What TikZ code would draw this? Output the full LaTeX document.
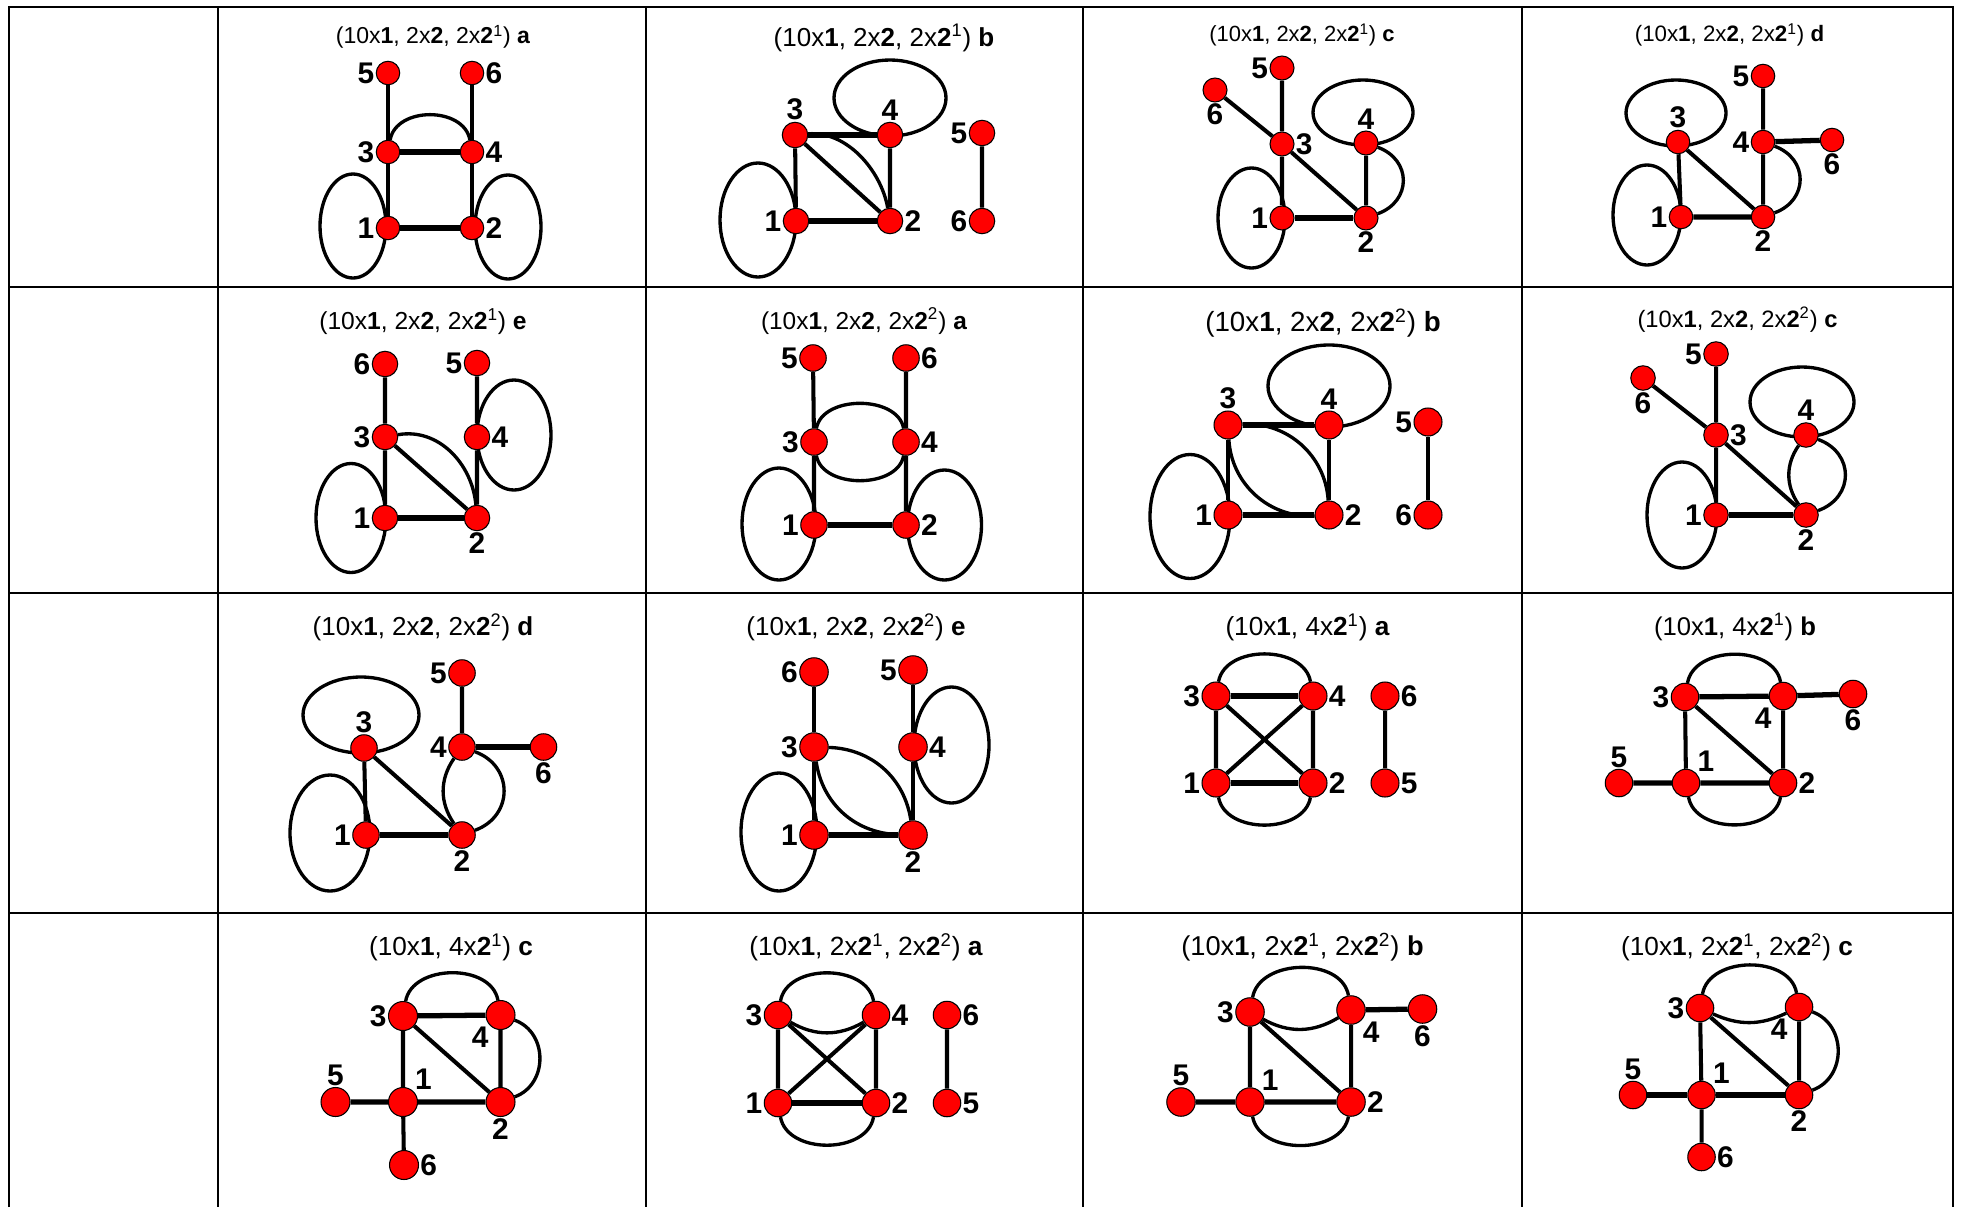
\documentclass[tikz,border=0pt]{standalone}
\usepackage{fontspec}
\setmainfont{Liberation Sans}
\usetikzlibrary{backgrounds}

\tikzset{
  vert/.style={circle, draw=black, fill=red, line width=0.6pt, inner sep=0pt, minimum size=#1},
  vert/.default=0.52cm,
  link/.style={line width=2.3pt},
  hlink/.style={line width=3pt},
  lp/.style={line width=1.9pt},
  rule/.style={line width=1.2pt},
  ttl/.style={inner sep=0pt, font=\fontsize{#1}{#1}\selectfont},
  every label/.style={font=\fontsize{17}{17}\selectfont\bfseries, inner sep=0.6pt},
}

\begin{document}
\begin{tikzpicture}[x=0.02cm, y=0.02cm]
\useasboundingbox (0,0) rectangle (1963,-1207);

% Table
\draw[rule] (9,-1207) -- (9,-7) -- (1953,-7) -- (1953,-1207);
\foreach \cx in {218,646,1083,1522} \draw[rule] (\cx,-7) -- (\cx,-1207);
\foreach \ry in {287,593,913} \draw[rule] (9,-\ry) -- (1953,-\ry);

% (10x1, 2x2, 2x2^1) a
\node[ttl=13.1] (t1) at (433,-37) {(10x\textbf{1}, 2x\textbf{2}, 2x\textbf{2}\textsuperscript{1}) \textbf{a}};
\begin{scope}[vert/.default=0.47cm]
\node[vert, label=left:5] (g1-5) at (388,-73) {};
\node[vert, label=right:6] (g1-6) at (472,-73) {};
\node[vert, label=left:3] (g1-3) at (388,-152) {};
\node[vert, label=right:4] (g1-4) at (472,-152) {};
\node[vert, label=left:1] (g1-1) at (388,-228) {};
\node[vert, label=right:2] (g1-2) at (472,-228) {};
\end{scope}
\draw[link] (g1-5) -- (g1-3) (g1-6) -- (g1-4) (g1-3) -- (g1-1) (g1-4) -- (g1-2);
\draw[hlink] (g1-3) -- (g1-4) (g1-1) -- (g1-2);
\draw[lp] (g1-3) to[out=80, in=100, looseness=1.1] (g1-4);
\begin{scope}[on background layer]
\draw[lp] (g1-1) ++(-35,2) ellipse [x radius=33, y radius=52];
\draw[lp] (g1-2) ++(36,1) ellipse [x radius=33, y radius=52];
\end{scope}

% (10x1, 2x2, 2x2^1) b
\node[ttl=14.8] (t2) at (884,-38) {(10x\textbf{1}, 2x\textbf{2}, 2x\textbf{2}\textsuperscript{1}) \textbf{b}};
\begin{scope}[vert/.default=0.51cm]
\node[vert, label=above:3] (g2-3) at (795,-135) {};
\node[vert, label=above:4] (g2-4) at (890,-135) {};
\node[vert, label=left:1] (g2-1) at (796,-221) {};
\node[vert, label=right:2] (g2-2) at (890,-221) {};
\node[vert, label=left:5] (g2-5) at (982,-133) {};
\node[vert, label=left:6] (g2-6) at (982,-221) {};
\end{scope}
\draw[link] (g2-3) -- (g2-1) (g2-4) -- (g2-2) (g2-3) -- (g2-2) (g2-5) -- (g2-6);
\draw[hlink] (g2-3) -- (g2-4) (g2-1) -- (g2-2);
\draw[lp] (g2-3) to[out=5, in=100, looseness=0.9] (g2-2);
\begin{scope}[on background layer]
\draw[lp] (g2-4) ++(0,37) ellipse [x radius=56, y radius=38];
\draw[lp] (g2-1) ++(-38,1) ellipse [x radius=38, y radius=57];
\end{scope}

% (10x1, 2x2, 2x2^1) c
\node[ttl=12.5] (t3) at (1302,-35) {(10x\textbf{1}, 2x\textbf{2}, 2x\textbf{2}\textsuperscript{1}) \textbf{c}};
\begin{scope}[vert/.default=0.48cm]
\node[vert, label=left:5] (g3-5) at (1282,-68) {};
\node[vert, label=below:6] (g3-6) at (1215,-90) {};
\node[vert, label=right:3] (g3-3) at (1282,-144) {};
\node[vert, label=above:4] (g3-4) at (1366,-143) {};
\node[vert, label=left:1] (g3-1) at (1282,-218) {};
\node[vert, label=below:2] (g3-2) at (1366,-218) {};
\end{scope}
\draw[link] (g3-5) -- (g3-3) (g3-6) -- (g3-3) (g3-3) -- (g3-1) (g3-3) -- (g3-2) (g3-4) -- (g3-2);
\draw[hlink] (g3-1) -- (g3-2);
\draw[lp] (g3-4) to[out=-20, in=20, looseness=1.4] (g3-2);
\begin{scope}[on background layer]
\draw[lp] (g3-4) ++(-3,30.5) ellipse [x radius=50, y radius=32.5];
\draw[lp] (g3-1) ++(-30.5,0) ellipse [x radius=33.5, y radius=50];
\end{scope}

% (10x1, 2x2, 2x2^1) d
\node[ttl=12.7] (t4) at (1729.5,-35) {(10x\textbf{1}, 2x\textbf{2}, 2x\textbf{2}\textsuperscript{1}) \textbf{d}};
\begin{scope}[vert/.default=0.47cm]
\node[vert, label=left:5] (g4-5) at (1763,-76) {};
\node[vert, label=above:3] (g4-3) at (1678,-142) {};
\node[vert, label=left:4] (g4-4) at (1763,-142) {};
\node[vert, label=below:6] (g4-6) at (1832,-140) {};
\node[vert, label=left:1] (g4-1) at (1681,-217) {};
\node[vert, label=below:2] (g4-2) at (1763,-217) {};
\end{scope}
\draw[link] (g4-5) -- (g4-4) (g4-4) -- (g4-2) (g4-3) -- (g4-1) (g4-3) -- (g4-2);
\draw[hlink] (g4-4) -- (g4-6) (g4-1) -- (g4-2);
\draw[lp] (g4-4) to[out=-20, in=20, looseness=1.4] (g4-2);
\begin{scope}[on background layer]
\draw[lp] (g4-3) ++(-2,29) ellipse [x radius=50, y radius=33];
\draw[lp] (g4-1) ++(-34,2) ellipse [x radius=34, y radius=50];
\end{scope}

% (10x1, 2x2, 2x2^1) e
\node[ttl=14] (t5) at (423,-322) {(10x\textbf{1}, 2x\textbf{2}, 2x\textbf{2}\textsuperscript{1}) \textbf{e}};
\begin{scope}[vert/.default=0.51cm]
\node[vert, label=left:6] (g5-6) at (385,-364) {};
\node[vert, label=left:5] (g5-5) at (477,-363) {};
\node[vert, label=left:3] (g5-3) at (385,-437) {};
\node[vert, label=right:4] (g5-4) at (477,-437) {};
\node[vert, label=left:1] (g5-1) at (385,-518) {};
\node[vert, label=below:2] (g5-2) at (477,-518) {};
\end{scope}
\draw[link] (g5-6) -- (g5-3) (g5-5) -- (g5-4) (g5-4) -- (g5-2) (g5-3) -- (g5-1) (g5-3) -- (g5-2);
\draw[hlink] (g5-1) -- (g5-2);
\draw[lp] (g5-3) to[out=10, in=95] (g5-2);
\begin{scope}[on background layer]
\draw[lp] (g5-4) ++(37,2) ellipse [x radius=37, y radius=55];
\draw[lp] (g5-1) ++(-34,0) ellipse [x radius=35, y radius=54.5];
\end{scope}

% (10x1, 2x2, 2x2^2) a
\node[ttl=13.9] (t6) at (864,-321) {(10x\textbf{1}, 2x\textbf{2}, 2x\textbf{2}\textsuperscript{2}) \textbf{a}};
\begin{scope}[vert/.default=0.53cm]
\node[vert, label=left:5] (g6-5) at (813,-358) {};
\node[vert, label=right:6] (g6-6) at (906,-358) {};
\node[vert, label=left:3] (g6-3) at (814,-442) {};
\node[vert, label=right:4] (g6-4) at (906,-442) {};
\node[vert, label=left:1] (g6-1) at (814,-525) {};
\node[vert, label=right:2] (g6-2) at (906,-525) {};
\end{scope}
\draw[link] (g6-5) -- (g6-3) (g6-6) -- (g6-4) (g6-3) -- (g6-1) (g6-4) -- (g6-2);
\draw[hlink] (g6-1) -- (g6-2);
\draw[lp] (g6-3) to[out=80, in=100, looseness=1] (g6-4);
\draw[lp] (g6-3) to[out=-80, in=-100, looseness=1] (g6-4);
\begin{scope}[on background layer]
\draw[lp] (g6-1) ++(-35,1) ellipse [x radius=37, y radius=56];
\draw[lp] (g6-2) ++(38.5,0) ellipse [x radius=37, y radius=55];
\end{scope}

% (10x1, 2x2, 2x2^2) b
\node[ttl=15.8] (t7) at (1323,-323) {(10x\textbf{1}, 2x\textbf{2}, 2x\textbf{2}\textsuperscript{2}) \textbf{b}};
\begin{scope}[vert/.default=0.56cm]
\node[vert, label=above:3] (g7-3) at (1228,-425) {};
\node[vert, label=above:4] (g7-4) at (1329,-425) {};
\node[vert, label=left:1] (g7-1) at (1228,-515) {};
\node[vert, label=right:2] (g7-2) at (1329,-515) {};
\node[vert, label=left:5] (g7-5) at (1428,-422) {};
\node[vert, label=left:6] (g7-6) at (1428,-515) {};
\end{scope}
\draw[link] (g7-3) -- (g7-1) (g7-4) -- (g7-2) (g7-5) -- (g7-6);
\draw[hlink] (g7-3) -- (g7-4) (g7-1) -- (g7-2);
\draw[lp] (g7-3) to[bend left=45] (g7-2);
\draw[lp] (g7-3) to[bend right=45] (g7-2);
\begin{scope}[on background layer]
\draw[lp] (g7-4) ++(0,39) ellipse [x radius=61, y radius=41];
\draw[lp] (g7-1) ++(-38,-1.5) ellipse [x radius=40, y radius=62];
\end{scope}

% (10x1, 2x2, 2x2^2) c
\node[ttl=13.5] (t8) at (1737.5,-320) {(10x\textbf{1}, 2x\textbf{2}, 2x\textbf{2}\textsuperscript{2}) \textbf{c}};
\begin{scope}[vert/.default=0.49cm]
\node[vert, label=left:5] (g8-5) at (1716,-354) {};
\node[vert, label=below:6] (g8-6) at (1643,-378) {};
\node[vert, label=right:3] (g8-3) at (1716,-435) {};
\node[vert, label=above:4] (g8-4) at (1806,-435) {};
\node[vert, label=left:1] (g8-1) at (1716,-515) {};
\node[vert, label=below:2] (g8-2) at (1806,-515) {};
\end{scope}
\draw[link] (g8-5) -- (g8-3) (g8-6) -- (g8-3) (g8-3) -- (g8-1) (g8-3) -- (g8-2);
\draw[hlink] (g8-1) -- (g8-2);
\draw[lp] (g8-4) to[bend right=35] (g8-2);
\draw[lp] (g8-4) to[out=-20, in=20, looseness=1.4] (g8-2);
\begin{scope}[on background layer]
\draw[lp] (g8-4) ++(-4,33) ellipse [x radius=52, y radius=35];
\draw[lp] (g8-1) ++(-34,0) ellipse [x radius=35, y radius=53];
\end{scope}

% (10x1, 2x2, 2x2^2) d
\node[ttl=14.8] (t9) at (423,-627) {(10x\textbf{1}, 2x\textbf{2}, 2x\textbf{2}\textsuperscript{2}) \textbf{d}};
\begin{scope}[vert/.default=0.53cm]
\node[vert, label=left:5] (g9-5) at (462,-673) {};
\node[vert, label=above:3] (g9-3) at (364,-748) {};
\node[vert, label=left:4] (g9-4) at (462,-747) {};
\node[vert, label=below:6] (g9-6) at (543.5,-747) {};
\node[vert, label=left:1] (g9-1) at (366,-835) {};
\node[vert, label=below:2] (g9-2) at (462,-835) {};
\end{scope}
\draw[link] (g9-5) -- (g9-4) (g9-3) -- (g9-1) (g9-3) -- (g9-2);
\draw[hlink] (g9-4) -- (g9-6) (g9-1) -- (g9-2);
\draw[lp] (g9-4) to[bend right=35] (g9-2);
\draw[lp] (g9-4) to[out=-20, in=20, looseness=1.35] (g9-2);
\begin{scope}[on background layer]
\draw[lp] (g9-3) ++(-3,33) ellipse [x radius=58, y radius=38];
\draw[lp] (g9-1) ++(-36,2) ellipse [x radius=40, y radius=58];
\end{scope}

% (10x1, 2x2, 2x2^2) e
\node[ttl=14.8] (t10) at (856,-627) {(10x\textbf{1}, 2x\textbf{2}, 2x\textbf{2}\textsuperscript{2}) \textbf{e}};
\begin{scope}[vert/.default=0.57cm]
\node[vert, label=left:6] (g10-6) at (814,-672) {};
\node[vert, label=left:5] (g10-5) at (913,-670) {};
\node[vert, label=left:3] (g10-3) at (814,-747) {};
\node[vert, label=right:4] (g10-4) at (913,-747) {};
\node[vert, label=left:1] (g10-1) at (814,-835) {};
\node[vert, label=below:2] (g10-2) at (913,-835) {};
\end{scope}
\draw[link] (g10-6) -- (g10-3) (g10-5) -- (g10-4) (g10-4) -- (g10-2) (g10-3) -- (g10-1);
\draw[hlink] (g10-1) -- (g10-2);
\draw[lp] (g10-3) to[bend left=40] (g10-2);
\draw[lp] (g10-3) to[bend right=40] (g10-2);
\begin{scope}[on background layer]
\draw[lp] (g10-4) ++(38.5,2) ellipse [x radius=37.5, y radius=58];
\draw[lp] (g10-1) ++(-35,3) ellipse [x radius=38, y radius=59];
\end{scope}

% (10x1, 4x2^1) a
\node[ttl=14.9] (t11) at (1307.5,-627) {(10x\textbf{1}, 4x\textbf{2}\textsuperscript{1}) \textbf{a}};
\begin{scope}[vert/.default=0.56cm]
\node[vert, label=left:3] (g11-3) at (1216,-696) {};
\node[vert, label=right:4] (g11-4) at (1313,-696) {};
\node[vert, label=right:6] (g11-6) at (1385,-696) {};
\node[vert, label=left:1] (g11-1) at (1216,-783) {};
\node[vert, label=right:2] (g11-2) at (1313,-783) {};
\node[vert, label=right:5] (g11-5) at (1385,-783) {};
\end{scope}
\draw[link] (g11-3) -- (g11-1) (g11-4) -- (g11-2) (g11-3) -- (g11-2) (g11-1) -- (g11-4) (g11-6) -- (g11-5);
\draw[hlink] (g11-3) -- (g11-4) (g11-1) -- (g11-2);
\draw[lp] (g11-3) to[out=80, in=100, looseness=1.05] (g11-4);
\draw[lp] (g11-1) to[out=-80, in=-100, looseness=1.05] (g11-2);

% (10x1, 4x2^1) b
\node[ttl=14.6] (t12) at (1735,-627) {(10x\textbf{1}, 4x\textbf{2}\textsuperscript{1}) \textbf{b}};
\begin{scope}[vert/.default=0.55cm]
\node[vert, label=left:3] (g12-3) at (1685,-697) {};
\node[vert, label=below left:4] (g12-4) at (1783,-696) {};
\node[vert, label=below:6] (g12-6) at (1853,-694) {};
\node[vert, label=above:5] (g12-5) at (1619,-783) {};
\node[vert, label=above right:1] (g12-1) at (1686,-783) {};
\node[vert, label=right:2] (g12-2) at (1783,-783) {};
\end{scope}
\draw[link] (g12-3) -- (g12-1) (g12-4) -- (g12-2) (g12-3) -- (g12-2);
\draw[hlink] (g12-3) -- (g12-4) (g12-4) -- (g12-6) (g12-5) -- (g12-1) (g12-1) -- (g12-2);
\draw[lp] (g12-3) to[out=80, in=100, looseness=1.05] (g12-4);
\draw[lp] (g12-1) to[out=-80, in=-100, looseness=1.05] (g12-2);

% (10x1, 4x2^1) c
\node[ttl=14.9] (t13) at (451,-947) {(10x\textbf{1}, 4x\textbf{2}\textsuperscript{1}) \textbf{c}};
\begin{scope}[vert/.default=0.58cm]
\node[vert, label=left:3] (g13-3) at (403,-1016) {};
\node[vert, label=below left:4] (g13-4) at (500.5,-1015) {};
\node[vert, label=above:5] (g13-5) at (335.5,-1102) {};
\node[vert, label=above right:1] (g13-1) at (403,-1102) {};
\node[vert, label=below:2] (g13-2) at (500.5,-1102) {};
\node[vert, label=right:6] (g13-6) at (404,-1165) {};
\end{scope}
\draw[link] (g13-3) -- (g13-1) (g13-3) -- (g13-2) (g13-4) -- (g13-2) (g13-1) -- (g13-6);
\draw[hlink] (g13-3) -- (g13-4) (g13-5) -- (g13-1) (g13-1) -- (g13-2);
\draw[lp] (g13-3) to[out=80, in=100, looseness=1.05] (g13-4);
\draw[lp] (g13-4) to[out=-20, in=20, looseness=1.2] (g13-2);

% (10x1, 2x2^1, 2x2^2) a
\node[ttl=15] (t14) at (866,-947) {(10x\textbf{1}, 2x\textbf{2}\textsuperscript{1}, 2x\textbf{2}\textsuperscript{2}) \textbf{a}};
\begin{scope}[vert/.default=0.55cm]
\node[vert, label=left:3] (g14-3) at (778,-1015) {};
\node[vert, label=right:4] (g14-4) at (876,-1015) {};
\node[vert, label=right:6] (g14-6) at (947,-1015) {};
\node[vert, label=left:1] (g14-1) at (778,-1103) {};
\node[vert, label=right:2] (g14-2) at (876,-1103) {};
\node[vert, label=right:5] (g14-5) at (947,-1103) {};
\end{scope}
\draw[link] (g14-3) -- (g14-1) (g14-4) -- (g14-2) (g14-3) -- (g14-2) (g14-1) -- (g14-4) (g14-6) -- (g14-5);
\draw[hlink] (g14-1) -- (g14-2);
\draw[lp] (g14-3) to[out=80, in=100, looseness=1.05] (g14-4);
\draw[lp] (g14-3) to[bend right=30] (g14-4);
\draw[lp] (g14-1) to[out=-80, in=-100, looseness=1.05] (g14-2);

% (10x1, 2x2^1, 2x2^2) b
\node[ttl=15.5] (t15) at (1302.5,-947) {(10x\textbf{1}, 2x\textbf{2}\textsuperscript{1}, 2x\textbf{2}\textsuperscript{2}) \textbf{b}};
\begin{scope}[vert/.default=0.57cm]
\node[vert, label=left:3] (g15-3) at (1250,-1012) {};
\node[vert, label=below right:4] (g15-4) at (1351,-1010) {};
\node[vert, label=below:6] (g15-6) at (1422.5,-1009) {};
\node[vert, label=above:5] (g15-5) at (1181,-1102) {};
\node[vert, label=above right:1] (g15-1) at (1250,-1102) {};
\node[vert, label=right:2] (g15-2) at (1351,-1102) {};
\end{scope}
\draw[link] (g15-3) -- (g15-1) (g15-4) -- (g15-2) (g15-3) -- (g15-2);
\draw[hlink] (g15-4) -- (g15-6) (g15-5) -- (g15-1) (g15-1) -- (g15-2);
\draw[lp] (g15-3) to[out=80, in=100, looseness=1.05] (g15-4);
\draw[lp] (g15-3) to[bend right=30] (g15-4);
\draw[lp] (g15-1) to[out=-80, in=-100, looseness=1.05] (g15-2);

% (10x1, 2x2^1, 2x2^2) c
\node[ttl=14.9] (t16) at (1737,-947) {(10x\textbf{1}, 2x\textbf{2}\textsuperscript{1}, 2x\textbf{2}\textsuperscript{2}) \textbf{c}};
\begin{scope}[vert/.default=0.55cm]
\node[vert, label=left:3] (g16-3) at (1700,-1008) {};
\node[vert, label=below left:4] (g16-4) at (1799,-1007) {};
\node[vert, label=above:5] (g16-5) at (1633,-1095) {};
\node[vert, label=above right:1] (g16-1) at (1701.5,-1095) {};
\node[vert, label=below:2] (g16-2) at (1799,-1095) {};
\node[vert, label=right:6] (g16-6) at (1701.5,-1157) {};
\end{scope}
\draw[link] (g16-3) -- (g16-1) (g16-3) -- (g16-2) (g16-4) -- (g16-2) (g16-1) -- (g16-6);
\draw[hlink] (g16-5) -- (g16-1) (g16-1) -- (g16-2);
\draw[lp] (g16-3) to[out=80, in=100, looseness=1.05] (g16-4);
\draw[lp] (g16-3) to[bend right=25] (g16-4);
\draw[lp] (g16-4) to[out=-20, in=20, looseness=1.2] (g16-2);
\end{tikzpicture}
\end{document}
